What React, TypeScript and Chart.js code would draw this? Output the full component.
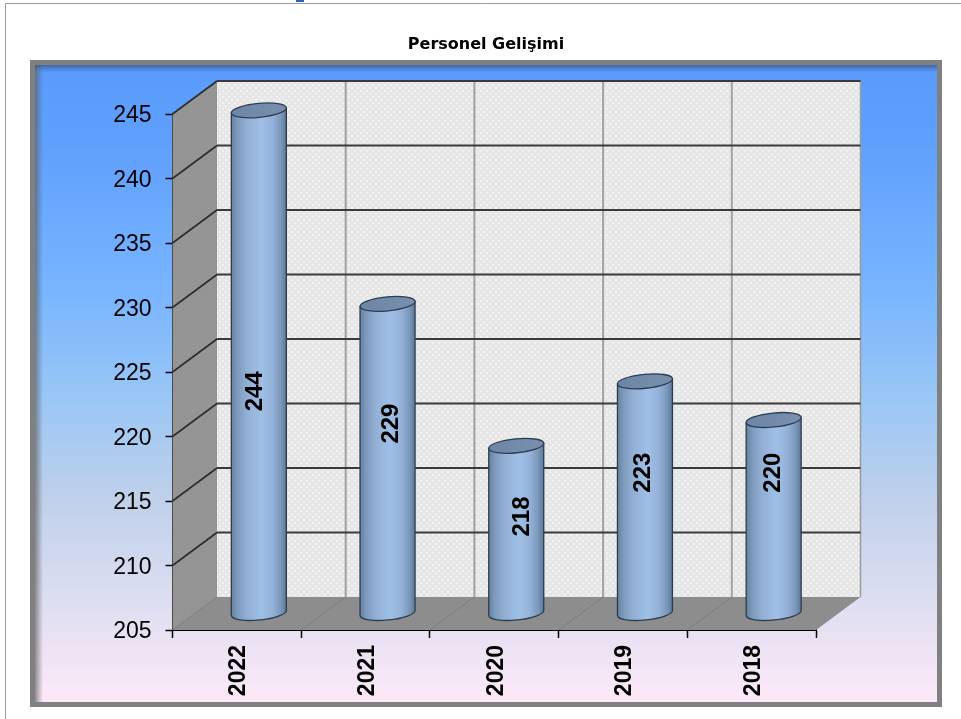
import React, { useEffect, useRef } from "react";
import { Chart, BarController, BarElement, registerables } from "chart.js";

Chart.register(...registerables);

const titleText = "Personel Gelişimi";
const categories = ["2022", "2021", "2020", "2019", "2018"];
const personnel = [244, 229, 218, 223, 220];
// where each rotated value label sits, read on the value axis
const labelAnchors = [223.5, 221.0, 213.8, 217.2, 217.2];
const labelShifts = [-3.5, 3.5, 6.5, -2, 0];

const DX = 44.5;
const DY = -33;
const BAR_DX = 22;
const BAR_DY = -16.5;
const BAR_W = 55;

function makePattern(ctx: CanvasRenderingContext2D, base: string, dots: string, kind: "dots" | "hatch") {
  const c = document.createElement("canvas");
  c.width = 6;
  c.height = 6;
  const p = c.getContext("2d")!;
  p.fillStyle = base;
  p.fillRect(0, 0, 6, 6);
  p.fillStyle = dots;
  if (kind === "dots") {
    p.fillRect(0, 0, 2, 2);
    p.fillRect(3, 3, 2, 2);
  } else {
    for (let i = 0; i < 6; i++) p.fillRect(i, (5 - i + 6) % 6, 1, 1);
    for (let i = 0; i < 6; i++) p.fillRect(i, (2 - i + 6) % 6, 1, 1);
  }
  return ctx.createPattern(c, "repeat")!;
}

class CylinderElement extends BarElement {
  static id = "cylinder";
  draw(ctx: CanvasRenderingContext2D) {
    const el = this as any;
    const half = BAR_W / 2;
    const cx = el.x + BAR_DX;
    const top = el.y + BAR_DY;
    const bottom = el.base + BAR_DY;
    const ry = 7;
    const tilt = (-5.5 * Math.PI) / 180;
    const rx = half / Math.cos(tilt);
    const dyEnd = half * Math.tan(tilt);
    ctx.save();
    const g = ctx.createLinearGradient(cx - half, 0, cx + half, 0);
    g.addColorStop(0, "#66829f");
    g.addColorStop(0.12, "#7f9cbf");
    g.addColorStop(0.3, "#93b1d6");
    g.addColorStop(0.55, "#a0bfe6");
    g.addColorStop(0.75, "#94b2d8");
    g.addColorStop(0.9, "#7a97ba");
    g.addColorStop(1, "#5d7896");
    ctx.beginPath();
    ctx.moveTo(cx - half, top - dyEnd);
    ctx.lineTo(cx - half, bottom - dyEnd);
    ctx.ellipse(cx, bottom, rx, ry, tilt, Math.PI, 0, true);
    ctx.lineTo(cx + half, top + dyEnd);
    ctx.closePath();
    ctx.fillStyle = g;
    ctx.fill();
    ctx.lineWidth = 1.3;
    ctx.strokeStyle = "#2e3c50";
    ctx.stroke();
    const t = ctx.createLinearGradient(cx - half, top, cx + half, top);
    t.addColorStop(0, "#6d86a6");
    t.addColorStop(1, "#7890ae");
    ctx.beginPath();
    ctx.ellipse(cx, top, rx, ry, tilt, 0, Math.PI * 2);
    ctx.fillStyle = t;
    ctx.fill();
    ctx.stroke();
    ctx.restore();
  }
}

class CylinderController extends BarController {
  static id = "cylinderBar";
  static defaults = { ...(BarController as any).defaults, dataElementType: "cylinder" };
  static overrides = (BarController as any).overrides;
}

Chart.register(CylinderElement as any, CylinderController as any);

const scenePlugin = {
  id: "scene",
  afterLayout(chart: any) {
    if (chart.titleBlock) {
      chart.titleBlock.left += 28;
      chart.titleBlock.right += 28;
    }
  },
  beforeDraw(chart: any) {
    const { ctx, scales, chartArea } = chart;
    // nudge tick labels onto the reference's text positions
    scales.y.getLabelItems(chartArea).forEach((item: any) => {
      item.textOffset += 2;
    });
    scales.x.getLabelItems(chartArea).forEach((item: any) => {
      item.options.translation[0] += 2;
      item.options.translation[1] += 1;
    });
    ctx.save();
    ctx.fillStyle = "#ffffff";
    ctx.fillRect(0, 0, chart.width, chart.height);
    // page edge
    ctx.strokeStyle = "#9a9a9a";
    ctx.lineWidth = 1;
    ctx.beginPath();
    ctx.moveTo(5.5, 719);
    ctx.lineTo(5.5, 3.5);
    ctx.lineTo(961, 3.5);
    ctx.stroke();
    ctx.fillStyle = "#2a66b0";
    ctx.fillRect(296, 0, 8, 2);
    // panel
    ctx.fillStyle = "#808080";
    ctx.fillRect(30, 60, 912, 647);
    const bg = ctx.createLinearGradient(0, 65, 0, 702);
    bg.addColorStop(0, "#5a9afb");
    bg.addColorStop(0.12, "#5f9ffc");
    bg.addColorStop(0.36, "#79b5ff");
    bg.addColorStop(0.52, "#99c6f5");
    bg.addColorStop(0.68, "#bfd0ea");
    bg.addColorStop(0.84, "#dddef1");
    bg.addColorStop(1, "#fde9f7");
    ctx.fillStyle = bg;
    ctx.fillRect(35, 65, 902, 637);
    const st = ctx.createLinearGradient(0, 65, 0, 72);
    st.addColorStop(0, "rgba(50,70,110,0.6)");
    st.addColorStop(1, "rgba(50,70,110,0)");
    ctx.fillStyle = st;
    ctx.fillRect(35, 65, 902, 7);
    const sl = ctx.createLinearGradient(35, 0, 43, 0);
    sl.addColorStop(0, "rgba(90,90,90,0.65)");
    sl.addColorStop(1, "rgba(90,90,90,0)");
    ctx.fillStyle = sl;
    ctx.fillRect(35, 65, 8, 637);
    ctx.restore();
  },
  beforeDatasetsDraw(chart: any) {
    const { ctx, scales } = chart;
    const x = scales.x;
    const y = scales.y;
    const L = x.left;
    const R = x.right;
    const T = y.top;
    const B = y.bottom;
    ctx.save();
    // back wall
    ctx.fillStyle = makePattern(ctx, "#e6e6e6", "#f1f1f1", "dots");
    ctx.fillRect(L + DX, T + DY, R - L, B - T);
    ctx.strokeStyle = "#9a9a9a";
    ctx.lineWidth = 1.5;
    ctx.beginPath();
    ctx.moveTo(R + DX, T + DY);
    ctx.lineTo(R + DX, B + DY);
    ctx.stroke();
    // side wall
    ctx.fillStyle = makePattern(ctx, "#929292", "#9a9a9a", "hatch");
    ctx.beginPath();
    ctx.moveTo(L, T);
    ctx.lineTo(L + DX, T + DY);
    ctx.lineTo(L + DX, B + DY);
    ctx.lineTo(L, B);
    ctx.closePath();
    ctx.fill();
    // floor
    ctx.fillStyle = "#8d8d8d";
    ctx.beginPath();
    ctx.moveTo(L, B);
    ctx.lineTo(R, B);
    ctx.lineTo(R + DX, B + DY);
    ctx.lineTo(L + DX, B + DY);
    ctx.closePath();
    ctx.fill();
    // vertical wall lines and floor diagonals
    for (let i = 0; i < categories.length; i++) {
      const px = x.getPixelForValue(i - 0.5);
      if (i > 0) {
        ctx.strokeStyle = "#a2a2a2";
        ctx.lineWidth = 2;
        ctx.beginPath();
        ctx.moveTo(px + DX, T + DY);
        ctx.lineTo(px + DX, B + DY);
        ctx.stroke();
      }
      ctx.strokeStyle = "#7e7e7e";
      ctx.lineWidth = 1;
      ctx.beginPath();
      ctx.moveTo(px, B);
      ctx.lineTo(px + DX, B + DY);
      ctx.stroke();
    }
    // horizontal lines
    for (const t of y.ticks) {
      const py = y.getPixelForValue(t.value);
      if (t.value === y.min) continue;
      ctx.strokeStyle = "#2c2c2c";
      ctx.lineWidth = 1.6;
      ctx.beginPath();
      ctx.moveTo(L, py);
      ctx.lineTo(L + DX, py + DY);
      ctx.stroke();
      ctx.strokeStyle = "#3a3a3a";
      ctx.lineWidth = 2;
      ctx.beginPath();
      ctx.moveTo(L + DX, py + DY);
      ctx.lineTo(R + DX, py + DY);
      ctx.stroke();
    }
    ctx.restore();
  },
  afterDatasetsDraw(chart: any) {
    const { ctx, scales } = chart;
    const meta = chart.getDatasetMeta(0);
    ctx.save();
    ctx.fillStyle = "#000000";
    ctx.font = 'bold 24px "Liberation Sans", Arial, sans-serif';
    ctx.textAlign = "center";
    ctx.textBaseline = "middle";
    personnel.forEach((v, i) => {
      const el = meta.data[i];
      ctx.save();
      ctx.translate(el.x + BAR_DX + labelShifts[i], scales.y.getPixelForValue(labelAnchors[i]));
      ctx.rotate(-Math.PI / 2);
      ctx.fillText(String(v), 0, 0);
      ctx.restore();
    });
    ctx.restore();
  },
};

export default function App() {
  const ref = useRef<HTMLCanvasElement>(null);
  useEffect(() => {
    const chart = new Chart(ref.current!, {
      type: "cylinderBar" as any,
      data: {
        labels: categories,
        datasets: [
          {
            data: personnel,
            base: 205,
            barThickness: BAR_W,
            clip: false,
          } as any,
        ],
      },
      plugins: [scenePlugin as any],
      options: {
        animation: false,
        responsive: false,
        layout: { padding: { left: 100, right: 145, top: 0, bottom: 0 } },
        plugins: {
          legend: { display: false },
          tooltip: { enabled: false },
          title: {
            display: true,
            text: titleText,
            color: "#000000",
            font: { family: '"DejaVu Sans", sans-serif', size: 16, weight: "bold", lineHeight: 1.25 },
            padding: { top: 35, bottom: 59 },
          },
        },
        scales: {
          x: {
            type: "category",
            afterFit: (s: any) => {
              s.height = 89;
            },
            border: { display: true, color: "#000000", width: 2 },
            grid: { drawOnChartArea: false, drawTicks: true, tickLength: 8, color: "#000000", tickWidth: 1.5, offset: true },
            ticks: {
              color: "#000000",
              minRotation: 90,
              maxRotation: 90,
              padding: 6,
              font: { family: '"Liberation Sans", Arial, sans-serif', size: 23, weight: "bold" },
            },
          },
          y: {
            type: "linear",
            min: 205,
            max: 245,
            afterFit: (s: any) => {
              s.width = 72.5;
            },
            border: { display: true, color: "#000000", width: 2 },
            grid: { drawOnChartArea: false, drawTicks: true, tickLength: 7, color: "#000000", tickWidth: 1.5 },
            ticks: {
              stepSize: 5,
              color: "#000000",
              padding: 14,
              font: { family: '"Liberation Sans", Arial, sans-serif', size: 23 },
            },
          },
        },
      },
    } as any);
    return () => chart.destroy();
  }, []);
  return (
    <div style={{ position: "fixed", left: 0, top: 0, width: 961, height: 719, background: "#fff" }}>
      <canvas ref={ref} width={961} height={719} style={{ display: "block" }} />
    </div>
  );
}
